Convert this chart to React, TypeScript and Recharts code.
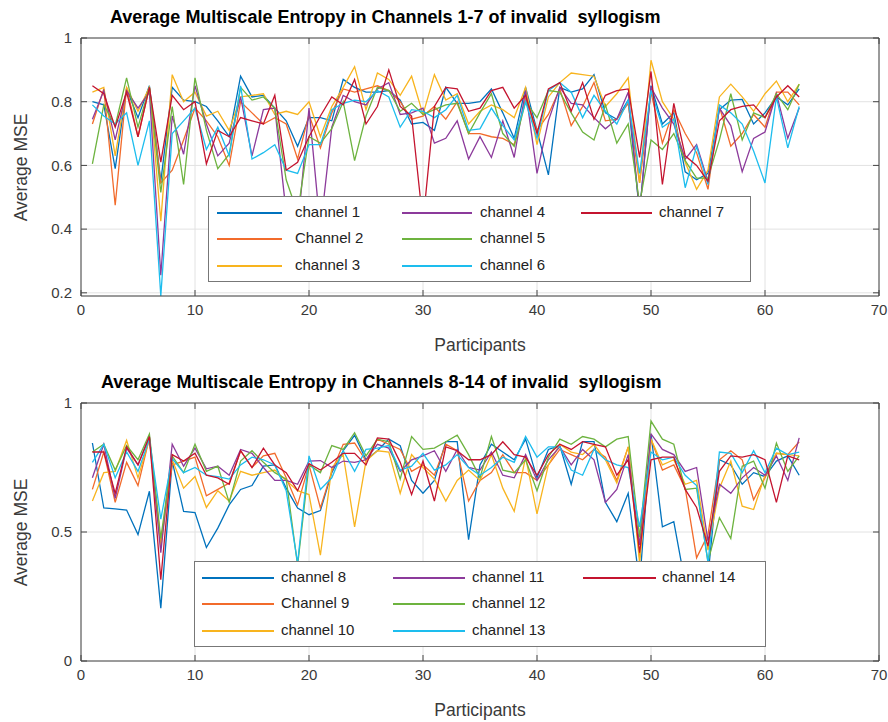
import { CartesianGrid, Line, LineChart, XAxis, YAxis } from "recharts";

// participants on the x axis
const participants = [
  1, 2, 3, 4, 5, 6, 7, 8, 9, 10, 11, 12, 13, 14, 15, 16, 17, 18, 19, 20, 21,
  22, 23, 24, 25, 26, 27, 28, 29, 30, 31, 32, 33, 34, 35, 36, 37, 38, 39, 40, 41, 42,
  43, 44, 45, 46, 47, 48, 49, 50, 51, 52, 53, 54, 55, 56, 57, 58, 59, 60, 61, 62, 63,
];

// channels 1-7
const ch1 = [
  0.8, 0.79, 0.59, 0.84, 0.75, 0.85, 0.55, 0.845, 0.805, 0.8, 0.785, 0.74, 0.69, 0.88, 0.815, 0.82, 0.78,
  0.74, 0.66, 0.75, 0.75, 0.74, 0.87, 0.845, 0.83, 0.83, 0.835, 0.805, 0.73, 0.735, 0.71, 0.845, 0.795, 0.795, 0.8,
  0.84, 0.765, 0.685, 0.845, 0.71, 0.57, 0.845, 0.83, 0.84, 0.885, 0.765, 0.745, 0.805, 0.45, 0.85, 0.73, 0.765, 0.58,
  0.555, 0.575, 0.775, 0.805, 0.807, 0.73, 0.765, 0.815, 0.79, 0.84,
];
const ch2 = [
  0.73, 0.84, 0.475, 0.845, 0.69, 0.845, 0.545, 0.585, 0.68, 0.78, 0.74, 0.69, 0.6, 0.8, 0.765, 0.73, 0.75,
  0.73, 0.62, 0.76, 0.655, 0.765, 0.84, 0.83, 0.84, 0.85, 0.835, 0.8, 0.745, 0.755, 0.785, 0.745, 0.8, 0.7, 0.7,
  0.69, 0.685, 0.665, 0.81, 0.71, 0.76, 0.84, 0.725, 0.785, 0.86, 0.74, 0.745, 0.795, 0.545, 0.83, 0.67, 0.775, 0.7,
  0.64, 0.525, 0.785, 0.66, 0.7, 0.76, 0.72, 0.83, 0.83, 0.79,
];
const ch3 = [
  0.83, 0.845, 0.63, 0.845, 0.77, 0.845, 0.425, 0.885, 0.8, 0.83, 0.755, 0.77, 0.71, 0.815, 0.82, 0.825, 0.76,
  0.77, 0.76, 0.8, 0.69, 0.785, 0.845, 0.91, 0.775, 0.89, 0.87, 0.82, 0.88, 0.76, 0.885, 0.805, 0.825, 0.73, 0.77,
  0.79, 0.775, 0.75, 0.845, 0.665, 0.815, 0.86, 0.89, 0.885, 0.88, 0.785, 0.825, 0.875, 0.545, 0.93, 0.8, 0.745, 0.61,
  0.525, 0.585, 0.815, 0.855, 0.815, 0.77, 0.825, 0.865, 0.8, 0.855,
];
const ch4 = [
  0.745, 0.835, 0.68, 0.835, 0.78, 0.83, 0.255, 0.755, 0.635, 0.85, 0.73, 0.63, 0.67, 0.815, 0.63, 0.775, 0.78,
  0.45, 0.4, 0.78, 0.4, 0.72, 0.82, 0.8, 0.79, 0.84, 0.86, 0.76, 0.765, 0.78, 0.67, 0.685, 0.74, 0.62, 0.69,
  0.625, 0.74, 0.625, 0.835, 0.575, 0.74, 0.845, 0.795, 0.79, 0.75, 0.715, 0.745, 0.83, 0.45, 0.845, 0.78, 0.73, 0.62,
  0.665, 0.55, 0.78, 0.725, 0.58, 0.685, 0.705, 0.825, 0.685, 0.78,
];
const ch5 = [
  0.605, 0.79, 0.725, 0.875, 0.72, 0.845, 0.515, 0.785, 0.54, 0.875, 0.71, 0.59, 0.635, 0.845, 0.805, 0.815, 0.78,
  0.555, 0.45, 0.69, 0.67, 0.715, 0.8, 0.615, 0.755, 0.845, 0.835, 0.77, 0.795, 0.76, 0.775, 0.79, 0.795, 0.7, 0.765,
  0.825, 0.7, 0.66, 0.8, 0.75, 0.835, 0.83, 0.765, 0.705, 0.68, 0.79, 0.67, 0.73, 0.48, 0.68, 0.65, 0.7, 0.615,
  0.56, 0.56, 0.68, 0.825, 0.68, 0.765, 0.75, 0.825, 0.775, 0.855,
];
const ch6 = [
  0.79, 0.755, 0.73, 0.765, 0.6, 0.74, 0.19, 0.7, 0.74, 0.78, 0.65, 0.72, 0.63, 0.85, 0.62, 0.64, 0.665,
  0.585, 0.575, 0.665, 0.665, 0.775, 0.795, 0.805, 0.8, 0.835, 0.815, 0.72, 0.775, 0.77, 0.75, 0.775, 0.82, 0.71, 0.715,
  0.78, 0.725, 0.68, 0.8, 0.685, 0.835, 0.86, 0.83, 0.75, 0.82, 0.77, 0.73, 0.805, 0.575, 0.835, 0.72, 0.745, 0.53,
  0.66, 0.54, 0.79, 0.765, 0.73, 0.645, 0.545, 0.815, 0.655, 0.785,
];
const ch7 = [
  0.85, 0.825, 0.72, 0.83, 0.69, 0.845, 0.61, 0.82, 0.775, 0.8, 0.605, 0.71, 0.69, 0.75, 0.74, 0.73, 0.82,
  0.585, 0.61, 0.69, 0.755, 0.815, 0.79, 0.87, 0.73, 0.785, 0.9, 0.785, 0.755, 0.42, 0.785, 0.845, 0.84, 0.77, 0.78,
  0.835, 0.845, 0.78, 0.82, 0.7, 0.84, 0.86, 0.77, 0.86, 0.745, 0.82, 0.835, 0.84, 0.625, 0.895, 0.54, 0.795, 0.63,
  0.6, 0.55, 0.74, 0.775, 0.785, 0.79, 0.75, 0.815, 0.85, 0.815,
];

// channels 8-14
const ch8 = [
  0.845, 0.593, 0.59, 0.585, 0.49, 0.658, 0.205, 0.775, 0.58, 0.575, 0.44, 0.515, 0.605, 0.665, 0.68, 0.755, 0.76,
  0.67, 0.593, 0.567, 0.583, 0.73, 0.815, 0.875, 0.78, 0.815, 0.86, 0.835, 0.7, 0.65, 0.7, 0.85, 0.85, 0.47, 0.76,
  0.84, 0.81, 0.78, 0.86, 0.71, 0.82, 0.835, 0.685, 0.85, 0.85, 0.615, 0.54, 0.65, 0.3, 0.88, 0.52, 0.54, 0.3,
  0.28, 0.33, 0.78, 0.76, 0.685, 0.73, 0.715, 0.775, 0.795, 0.72,
];
const ch9 = [
  0.665, 0.81, 0.615, 0.77, 0.68, 0.865, 0.46, 0.76, 0.775, 0.79, 0.64, 0.665, 0.69, 0.815, 0.75, 0.795, 0.805,
  0.71, 0.605, 0.76, 0.593, 0.735, 0.84, 0.845, 0.775, 0.86, 0.84, 0.82, 0.735, 0.76, 0.72, 0.84, 0.815, 0.62, 0.7,
  0.73, 0.8, 0.73, 0.73, 0.7, 0.76, 0.82, 0.8, 0.78, 0.82, 0.79, 0.7, 0.83, 0.4, 0.86, 0.74, 0.76, 0.67,
  0.4, 0.49, 0.78, 0.815, 0.78, 0.625, 0.71, 0.805, 0.8, 0.85,
];
const ch10 = [
  0.62, 0.73, 0.735, 0.855, 0.71, 0.86, 0.44, 0.78, 0.67, 0.715, 0.595, 0.66, 0.62, 0.735, 0.72, 0.73, 0.74,
  0.7, 0.66, 0.645, 0.41, 0.75, 0.8, 0.52, 0.775, 0.815, 0.81, 0.65, 0.8, 0.75, 0.705, 0.62, 0.7, 0.74, 0.7,
  0.8, 0.67, 0.58, 0.79, 0.57, 0.76, 0.84, 0.81, 0.8, 0.84, 0.78, 0.69, 0.83, 0.38, 0.86, 0.76, 0.78, 0.685,
  0.7, 0.43, 0.67, 0.775, 0.6, 0.587, 0.72, 0.805, 0.8, 0.795,
];
const ch11 = [
  0.71, 0.84, 0.63, 0.825, 0.76, 0.87, 0.42, 0.84, 0.755, 0.825, 0.745, 0.755, 0.72, 0.82, 0.805, 0.75, 0.7,
  0.7, 0.685, 0.775, 0.777, 0.75, 0.775, 0.77, 0.78, 0.84, 0.825, 0.735, 0.78, 0.795, 0.815, 0.735, 0.82, 0.75, 0.74,
  0.81, 0.72, 0.71, 0.8, 0.7, 0.78, 0.83, 0.76, 0.82, 0.78, 0.615, 0.665, 0.8, 0.45, 0.88, 0.82, 0.8, 0.735,
  0.75, 0.465, 0.685, 0.65, 0.71, 0.75, 0.72, 0.795, 0.7, 0.865,
];
const ch12 = [
  0.81, 0.84, 0.74, 0.835, 0.78, 0.88, 0.475, 0.795, 0.73, 0.84, 0.735, 0.755, 0.615, 0.775, 0.815, 0.77, 0.73,
  0.705, 0.37, 0.76, 0.73, 0.835, 0.82, 0.885, 0.795, 0.86, 0.85, 0.705, 0.87, 0.82, 0.825, 0.85, 0.875, 0.8, 0.71,
  0.87, 0.74, 0.73, 0.78, 0.66, 0.79, 0.86, 0.84, 0.87, 0.86, 0.83, 0.86, 0.87, 0.48, 0.93, 0.86, 0.84, 0.665,
  0.67, 0.385, 0.555, 0.475, 0.755, 0.775, 0.67, 0.845, 0.735, 0.795,
];
const ch13 = [
  0.77, 0.84, 0.71, 0.81, 0.735, 0.86, 0.55, 0.785, 0.73, 0.75, 0.72, 0.715, 0.705, 0.76, 0.79, 0.78, 0.76,
  0.66, 0.38, 0.795, 0.665, 0.71, 0.815, 0.735, 0.82, 0.825, 0.835, 0.74, 0.755, 0.805, 0.74, 0.76, 0.8, 0.75, 0.72,
  0.75, 0.79, 0.77, 0.87, 0.79, 0.83, 0.83, 0.74, 0.72, 0.82, 0.78, 0.76, 0.75, 0.52, 0.81, 0.78, 0.79, 0.72,
  0.68, 0.38, 0.81, 0.805, 0.73, 0.815, 0.73, 0.825, 0.8, 0.81,
];
const ch14 = [
  0.81, 0.81, 0.65, 0.83, 0.76, 0.87, 0.315, 0.8, 0.775, 0.805, 0.72, 0.71, 0.685, 0.815, 0.75, 0.825, 0.76,
  0.73, 0.66, 0.765, 0.74, 0.77, 0.805, 0.805, 0.76, 0.865, 0.86, 0.77, 0.645, 0.775, 0.62, 0.83, 0.815, 0.78, 0.78,
  0.8, 0.85, 0.8, 0.79, 0.72, 0.8, 0.84, 0.82, 0.85, 0.84, 0.83, 0.72, 0.78, 0.42, 0.78, 0.79, 0.79, 0.665,
  0.595, 0.445, 0.735, 0.795, 0.79, 0.8, 0.78, 0.615, 0.795, 0.78,
];

const topNames = ["channel 1", "Channel 2", "channel 3", "channel 4", "channel 5", "channel 6", "channel 7"];
const bottomNames = ["channel 8", "Channel 9", "channel 10", "channel 11", "channel 12", "channel 13", "channel 14"];
const colors = ["#0072BD", "#F26B2B", "#F8B41E", "#8C3A9B", "#6DB33F", "#1DBDEE", "#C4142F"];

const xTicks = [0, 10, 20, 30, 40, 50, 60, 70];
const topYTicks = [0.2, 0.4, 0.6, 0.8, 1];
const bottomYTicks = [0, 0.5, 1];

const topRows = participants.map((p, i) => ({
  p, s0: ch1[i], s1: ch2[i], s2: ch3[i], s3: ch4[i], s4: ch5[i], s5: ch6[i], s6: ch7[i],
}));
const bottomRows = participants.map((p, i) => ({
  p, s0: ch8[i], s1: ch9[i], s2: ch10[i], s3: ch11[i], s4: ch12[i], s5: ch13[i], s6: ch14[i],
}));

const FONT = "'Liberation Sans', Arial, Helvetica, sans-serif";
const INK = "#3a3a3a";
const keys = ["s0", "s1", "s2", "s3", "s4", "s5", "s6"];

type LegendLayout = { left: number; top: number; width: number; cols: { line: [number, number]; text: number }[]; rows: number[] };

function Legend({ names, lay }: { names: string[]; lay: LegendLayout }) {
  return (
    <div
      style={{
        position: "absolute", left: lay.left, top: lay.top, width: lay.width, height: 86,
        border: "1.5px solid #777", background: "#fff", boxSizing: "border-box",
      }}
    >
      {names.map((n, i) => {
        const col = lay.cols[Math.floor(i / 3)];
        const y = lay.rows[i % 3];
        return (
          <div key={n}>
            <div style={{ position: "absolute", left: col.line[0], width: col.line[1] - col.line[0], top: y - 1, height: 2, background: colors[i] }} />
            <div style={{ position: "absolute", left: col.text, top: y - 10, fontSize: 15, lineHeight: "18px", color: "#222", whiteSpace: "nowrap" }}>{n}</div>
          </div>
        );
      })}
    </div>
  );
}

function Panel({ top, title, titleLeft, rows, names, yDomain, yTicks, lay }: {
  top: number; title: string; titleLeft: number; rows: any[]; names: string[];
  yDomain: [number, number]; yTicks: number[]; lay: LegendLayout;
}) {
  return (
    <div style={{ position: "absolute", left: 0, top, width: 888, height: 360 }}>
      <div style={{ position: "absolute", left: titleLeft, top: 7, fontSize: 18, fontWeight: "bold", color: "#000", whiteSpace: "pre", lineHeight: "20px" }}>
        {title}
      </div>
      <LineChart width={888} height={330} data={rows} margin={{ top: 37, right: 8, bottom: 4, left: 31 }}>
        <CartesianGrid stroke="#e2e2e2" strokeWidth={1} />
        <XAxis
          dataKey="p" type="number" domain={[0, 70]} ticks={xTicks} allowDataOverflow
          tickSize={-6} tickMargin={14} height={30} interval={0}
          stroke="#444" tick={{ fill: INK, fontSize: 15, fontFamily: FONT }}
        />
        <XAxis
          xAxisId="top" orientation="top" dataKey="p" type="number" domain={[0, 70]} ticks={xTicks} allowDataOverflow
          tickSize={-6} height={1} interval={0} stroke="#444" tickFormatter={() => ""}
        />
        <YAxis
          type="number" domain={yDomain} ticks={yTicks} allowDataOverflow width={50} interval={0}
          tickSize={-6} tickMargin={15} stroke="#444"
          tick={{ fill: INK, fontSize: 15, fontFamily: FONT }}
        />
        <YAxis
          yAxisId="right" orientation="right" type="number" domain={yDomain} ticks={yTicks} allowDataOverflow
          width={1} interval={0} tickSize={-6} stroke="#444" tickFormatter={() => ""}
        />
        {keys.map((k, i) => (
          <Line key={k} dataKey={k} name={names[i]} type="linear" stroke={colors[i]} strokeWidth={1.3} dot={false} isAnimationActive={false} />
        ))}
      </LineChart>
      <div
        style={{
          position: "absolute", left: 4, top: 167 - 10, width: 36, height: 20,
          display: "flex", alignItems: "center", justifyContent: "center",
        }}
      >
        <div style={{ transform: "rotate(-90deg)", fontSize: 17.5, color: INK, whiteSpace: "nowrap" }}>Average MSE</div>
      </div>
      <div style={{ position: "absolute", left: 81, width: 798, top: 334, textAlign: "center", fontSize: 17.5, color: INK, lineHeight: "22px" }}>
        Participants
      </div>
      <Legend names={names} lay={lay} />
    </div>
  );
}

export default function App() {
  return (
    <div style={{ position: "relative", width: 888, height: 722, background: "#fff", fontFamily: FONT, overflow: "hidden" }}>
      <style>{"body{margin:0}"}</style>
      <Panel
        top={0}
        title="Average Multiscale Entropy in Channels 1-7 of invalid  syllogism"
        titleLeft={110}
        rows={topRows}
        names={topNames}
        yDomain={[0.19, 1]}
        yTicks={topYTicks}
        lay={{
          left: 208, top: 196, width: 543,
          cols: [{ line: [8, 73], text: 86 }, { line: [193, 263], text: 271 }, { line: [372, 443], text: 450 }],
          rows: [16, 42, 69],
        }}
      />
      <Panel
        top={365}
        title="Average Multiscale Entropy in Channels 8-14 of invalid  syllogism"
        titleLeft={101}
        rows={bottomRows}
        names={bottomNames}
        yDomain={[0, 1]}
        yTicks={bottomYTicks}
        lay={{
          left: 194, top: 196, width: 572,
          cols: [{ line: [7, 79], text: 86 }, { line: [198, 270], text: 277 }, { line: [388, 461], text: 467 }],
          rows: [16, 42, 69],
        }}
      />
    </div>
  );
}
